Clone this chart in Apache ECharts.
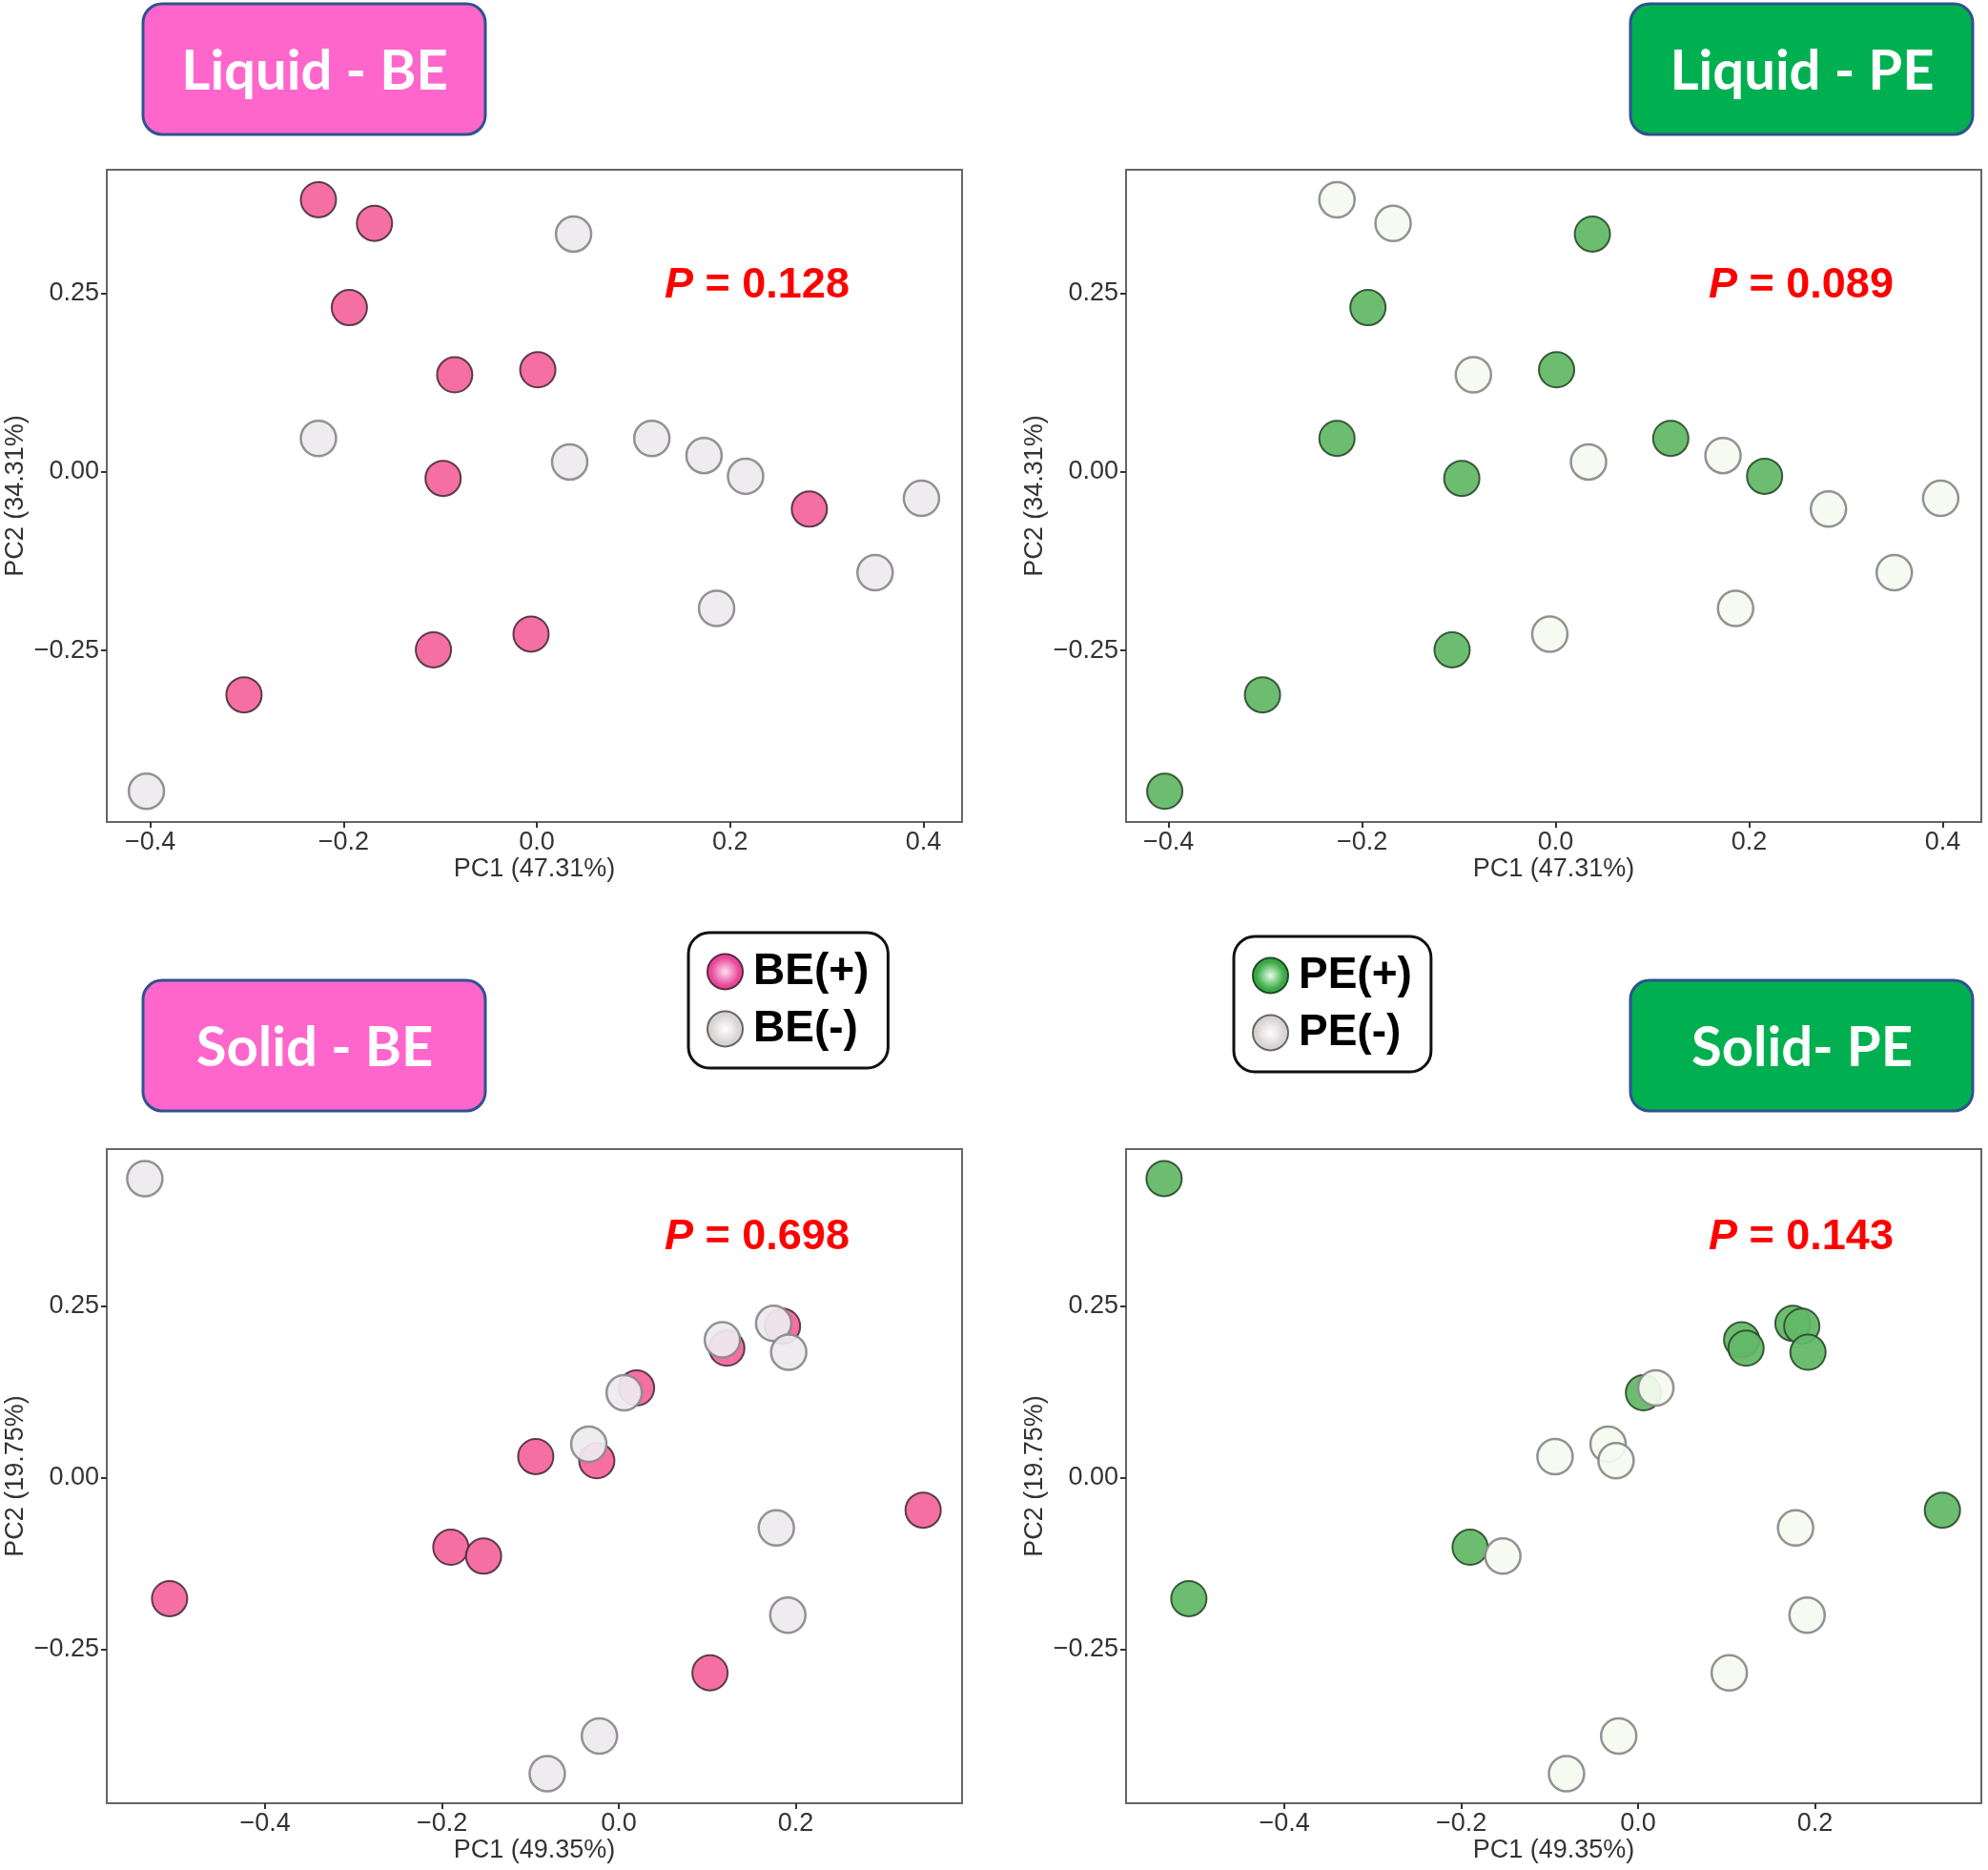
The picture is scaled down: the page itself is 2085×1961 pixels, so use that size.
<!DOCTYPE html>
<html>
<head>
<meta charset="utf-8">
<script src="https://cdn.jsdelivr.net/npm/echarts@6/dist/echarts.min.js"></script>
<style>
html,body{margin:0;padding:0;background:#fff;}
#chart{width:2085px;height:1961px;}
</style>
</head>
<body>
<div id="chart"></div>
<script>
// ---------- DATA ----------
// Liquid samples (same PCA for BE and PE panels)
const liquidPC1 = [-0.226, -0.168, -0.194, -0.085, 0.001, -0.097, 0.282, -0.107, -0.006, -0.303,
                    0.038, -0.226, 0.034, 0.119, 0.173, 0.216, 0.398, 0.350, 0.186, -0.404];
const liquidPC2 = [0.381, 0.348, 0.230, 0.136, 0.143, -0.009, -0.052, -0.249, -0.227, -0.312,
                    0.333, 0.047, 0.014, 0.047, 0.023, -0.006, -0.037, -0.141, -0.191, -0.447];
const liquidBE  = [1,1,1,1,1,1,1,1,1,1, 0,0,0,0,0,0,0,0,0,0];
const liquidPE  = [0,0,1,0,1,1,0,1,0,1, 1,1,0,1,0,1,0,0,0,1];

// Solid samples
const solidPC1 = [-0.536, -0.508, -0.190, 0.006, 0.117, 0.122, 0.175, 0.185, 0.192, 0.344,
                  -0.094, -0.034, -0.025, 0.020, -0.153, 0.178, 0.191, 0.103, -0.022, -0.081];
const solidPC2 = [0.436, -0.176, -0.101, 0.124, 0.201, 0.189, 0.225, 0.221, 0.183, -0.047,
                   0.031, 0.049, 0.025, 0.131, -0.114, -0.073, -0.200, -0.284, -0.376, -0.431];
const solidBE  = [0,1,1,0,0,1,0,1,0,1, 1,0,1,1,1,0,0,1,0,0];
const solidPE  = [1,1,1,1,1,1,1,1,1,1, 0,0,0,0,0,0,0,0,0,0];

const panelTitles = ['Liquid - BE', 'Liquid - PE', 'Solid - BE', 'Solid- PE'];
const pValues = ['0.128', '0.089', '0.698', '0.143'];
const xTitles = ['PC1 (47.31%)', 'PC1 (47.31%)', 'PC1 (49.35%)', 'PC1 (49.35%)'];
const yTitles = ['PC2 (34.31%)', 'PC2 (34.31%)', 'PC2 (19.75%)', 'PC2 (19.75%)'];
const xTicks = [-0.4, -0.2, 0.0, 0.2, 0.4];
const yTicks = [-0.25, 0.0, 0.25];
const beNames = ['BE(+)', 'BE(-)'];
const peNames = ['PE(+)', 'PE(-)'];

// ---------- LAYOUT / STYLE ----------
const FONT = 'Liberation Sans, Arial, sans-serif';
const grids = [
  {left:112,  top:178,  width:897, height:684},
  {left:1181, top:178,  width:897, height:684},
  {left:112,  top:1205, width:897, height:686},
  {left:1181, top:1205, width:897, height:686}
];
const ranges = [
  {xmin:-0.445, xmax:0.440, ymin:-0.490, ymax:0.423},
  {xmin:-0.444, xmax:0.440, ymin:-0.490, ymax:0.423},
  {xmin:-0.579, xmax:0.388, ymin:-0.474, ymax:0.479},
  {xmin:-0.579, xmax:0.388, ymin:-0.474, ymax:0.479}
];
const styles = {
  'BE(+)': {color:'#F4649C', borderColor:'#4d3340', borderWidth:2, opacity:0.93},
  'BE(-)': {color:'#EEEBEE', borderColor:'#8a8a8a', borderWidth:2.5, opacity:0.93},
  'PE(+)': {color:'#62B866', borderColor:'#2e4f2f', borderWidth:2, opacity:0.93},
  'PE(-)': {color:'#F5FAF0', borderColor:'#8a8a8a', borderWidth:2.5, opacity:0.93}
};

function fmt(v, d){
  const s = Math.abs(v).toFixed(d);
  return (v < -1e-9 ? '\u2212' : '') + s;
}

function pts(pc1, pc2, flag, want){
  const out = [];
  for (let i = 0; i < pc1.length; i++) if (flag[i] === want) out.push([pc1[i], pc2[i]]);
  return out;
}

const panelData = [
  {pc1:liquidPC1, pc2:liquidPC2, flag:liquidBE, names:beNames},
  {pc1:liquidPC1, pc2:liquidPC2, flag:liquidPE, names:peNames},
  {pc1:solidPC1,  pc2:solidPC2,  flag:solidBE,  names:beNames},
  {pc1:solidPC1,  pc2:solidPC2,  flag:solidPE,  names:peNames}
];

const xAxes = [], yAxes = [], series = [];
panelData.forEach((p, gi) => {
  const r = ranges[gi];
  xAxes.push({
    type:'value', gridIndex:gi, min:r.xmin, max:r.xmax, position:'bottom',
    name:xTitles[gi], nameLocation:'middle', nameGap:36,
    nameTextStyle:{fontSize:27, color:'#333', fontFamily:FONT},
    axisLine:{show:false, onZero:false},
    axisTick:{show:true, inside:false, length:6, lineStyle:{color:'#333', width:2}, customValues:xTicks},
    axisLabel:{customValues:xTicks, formatter:v => fmt(v,1), fontSize:27, color:'#333', margin:8, fontFamily:FONT},
    splitLine:{show:false}
  });
  yAxes.push({
    type:'value', gridIndex:gi, min:r.ymin, max:r.ymax, position:'left',
    name:yTitles[gi], nameLocation:'middle', nameGap:82,
    nameTextStyle:{fontSize:27, color:'#333', fontFamily:FONT},
    axisLine:{show:false, onZero:false},
    axisTick:{show:true, inside:false, length:6, lineStyle:{color:'#333', width:2}, customValues:yTicks},
    axisLabel:{customValues:yTicks, formatter:v => fmt(v,2), fontSize:27, color:'#333', margin:8, fontFamily:FONT},
    splitLine:{show:false}
  });
  [1, 0].forEach((want, k) => {
    const nm = p.names[k];
    series.push({
      type:'scatter', name:nm, xAxisIndex:gi, yAxisIndex:gi,
      symbol:'circle', symbolSize:37,
      itemStyle:styles[nm],
      emphasis:{disabled:true},
      data:pts(p.pc1, p.pc2, p.flag, want)
    });
  });
});

// title boxes and P values
const boxPos = [
  {x:150, y:4}, {x:1710, y:4}, {x:150, y:1028}, {x:1710, y:1028}
];
const boxColors = ['#FF66CC', '#00B050', '#FF66CC', '#00B050'];
const pPos = [{x:697, y:300}, {x:1792, y:300}, {x:697, y:1298}, {x:1792, y:1298}];
const graphics = [];
panelTitles.forEach((t, i) => {
  graphics.push({
    type:'rect', x:boxPos[i].x, y:boxPos[i].y,
    shape:{width:359, height:137, r:20},
    style:{fill:boxColors[i], stroke:'#2F528F', lineWidth:3}
  });
  graphics.push({
    type:'text', x:boxPos[i].x + 180, y:boxPos[i].y + 71,
    style:{text:t, fill:'#fff', font:'bold 58px Lato, "Open Sans", sans-serif', align:'center', verticalAlign:'middle'}
  });
  graphics.push({
    type:'text', x:pPos[i].x, y:pPos[i].y,
    style:{
      text:'{i|P}{n| = ' + pValues[i] + '}',
      verticalAlign:'middle', align:'left',
      rich:{
        i:{fontSize:45, fontWeight:'bold', fontStyle:'italic', fill:'#FF0000', fontFamily:FONT},
        n:{fontSize:45, fontWeight:'bold', fill:'#FF0000', fontFamily:FONT}
      }
    }
  });
});

function ball(inner, outer){
  return {type:'radial', x:0.5, y:0.5, r:0.5,
    colorStops:[{offset:0, color:inner}, {offset:0.75, color:outer}, {offset:1, color:outer}]};
}
const legendFont = '"Liberation Sans", Arial, sans-serif';
function legendCfg(names, left, top, plusIn, plusOut, plusBorder){
  return {
    data:[
      {name:names[0], itemStyle:{color:ball(plusIn, plusOut), borderColor:plusBorder, borderWidth:2, opacity:1}},
      {name:names[1], itemStyle:{color:ball('#ffffff', '#d8d4d4'), borderColor:'#666', borderWidth:2, opacity:1}}
    ],
    orient:'vertical', left:left, top:top, icon:'circle',
    itemWidth:37, itemHeight:37, itemGap:14,
    padding:[18, 20, 18, 19],
    borderColor:'#111', borderWidth:3, borderRadius:22, backgroundColor:'#fff',
    selectedMode:false,
    textStyle:{fontSize:46, fontWeight:'bold', color:'#000', fontFamily:legendFont, lineHeight:44, padding:[0,0,0,6]}
  };
}

const option = {
  backgroundColor:'#fff',
  animation:false,
  grid:grids.map(g => Object.assign({show:true, borderColor:'#666', borderWidth:2, backgroundColor:'#fff'}, g)),
  xAxis:xAxes,
  yAxis:yAxes,
  series:series,
  legend:[
    legendCfg(beNames, 722, 978, '#ffe0f2', '#e8489a', '#5a2a40'),
    legendCfg(peNames, 1294, 982, '#e6ffe6', '#3aa845', '#1f4a22')
  ],
  graphic:graphics
};

const chart = echarts.init(document.getElementById('chart'), null, {renderer:'canvas'});
chart.setOption(option);
</script>
</body>
</html>
